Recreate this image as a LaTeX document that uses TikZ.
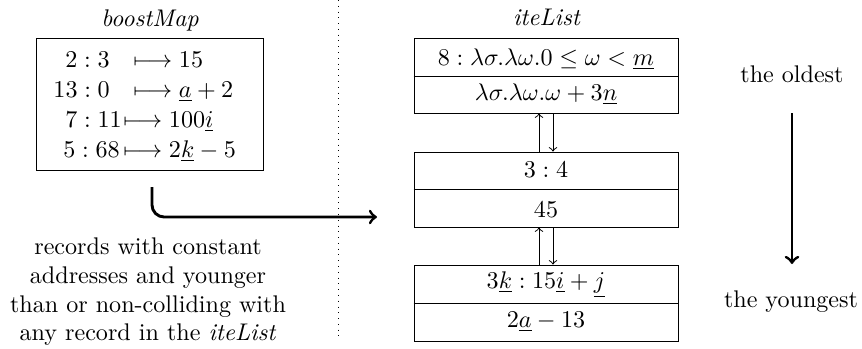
\documentclass[tikz,border=0pt]{standalone}
\usepackage{amsmath,amssymb}
\usetikzlibrary{fit}
\begin{document}
\begin{tikzpicture}[x=0.415pt,y=-0.415pt,
  txt/.style={inner sep=0pt, anchor=base},
  lft/.style={inner sep=0pt, anchor=base west},
  boxfit/.style={draw, inner sep=0pt, line width=0.4pt},
  smallarrow/.style={->, line width=0.4pt},
  bigarrow/.style={->, line width=1.2pt},
]
\useasboundingbox (0,0) rectangle (862,348);

% left: boostMap
\node[txt] (bmlabel) at (150,26) {\textit{boostMap}};
\node[boxfit, fit={(36,38) (263,170)}] (bm) {};
\node[lft] (r1a) at (65,67)  {$2:3$};
\node[lft] (r1b) at (133,67) {$\longmapsto 15$};
\node[lft] (r2a) at (53,97)  {$13:0$};
\node[lft] (r2b) at (133,97) {$\longmapsto \underline{a}+2$};
\node[lft] (r3a) at (65,127) {$7:11$};
\node[lft] (r3b) at (123,127) {$\longmapsto 100\underline{i}$};
\node[lft] (r4a) at (63,157) {$5:68$};
\node[lft] (r4b) at (123,157) {$\longmapsto 2\underline{k}-5$};

% description
\node[inner sep=0pt, anchor=north, align=center] (desc) at (148,237)
  {records with constant\\addresses and younger\\than or non-colliding with\\any record in the \textit{iteList}};

% dotted separator
\coordinate (dtop) at (338,0);
\coordinate (dbot) at (338,341);
\draw[dotted, line width=0.4pt] (dtop) -- (dbot);

% bent arrow
\coordinate (bs) at (152,187);
\coordinate (be) at (377,217);
\draw[bigarrow, rounded corners=5pt] (bs) |- (be);

% right: iteList
\node[txt] (illabel) at (547,25) {\textit{iteList}};
\node[boxfit, fit={(414,38) (678,113)}] (b1) {};
\node[boxfit, fit={(414,152) (678,227)}] (b2) {};
\node[boxfit, fit={(414,265) (678,341)}] (b3) {};
\draw[line width=0.4pt] (b1.west |- 0,76) -- (b1.east |- 0,76);
\draw[line width=0.4pt] (b2.west |- 0,189) -- (b2.east |- 0,189);
\draw[line width=0.4pt] (b3.west |- 0,303) -- (b3.east |- 0,303);

\node[txt] (t1a) at (546,65)  {$8:\lambda\sigma.\lambda\omega.0\leq\omega<\underline{m}$};
\node[txt] (t1b) at (546,100) {$\lambda\sigma.\lambda\omega.\omega+3\underline{n}$};
\node[txt] (t2a) at (546,177) {$3:4$};
\node[txt] (t2b) at (546,217) {$45$};
\node[txt] (t3a) at (546,288) {$3\underline{k}:15\underline{i}+\underline{j}$};
\node[txt] (t3b) at (546,327) {$2\underline{a}-13$};

\draw[smallarrow] (b2.north -| 539,0) -- (b1.south -| 539,0);
\draw[smallarrow] (b1.south -| 553,0) -- (b2.north -| 553,0);
\draw[smallarrow] (b3.north -| 539,0) -- (b2.south -| 539,0);
\draw[smallarrow] (b2.south -| 553,0) -- (b3.north -| 553,0);

% age arrow
\node[txt] (old) at (792,82) {the oldest};
\node[txt] (young) at (791,307) {the youngest};
\coordinate (as) at (792,113);
\coordinate (ae) at (792,264);
\draw[bigarrow] (as) -- (ae);
\end{tikzpicture}
\end{document}
